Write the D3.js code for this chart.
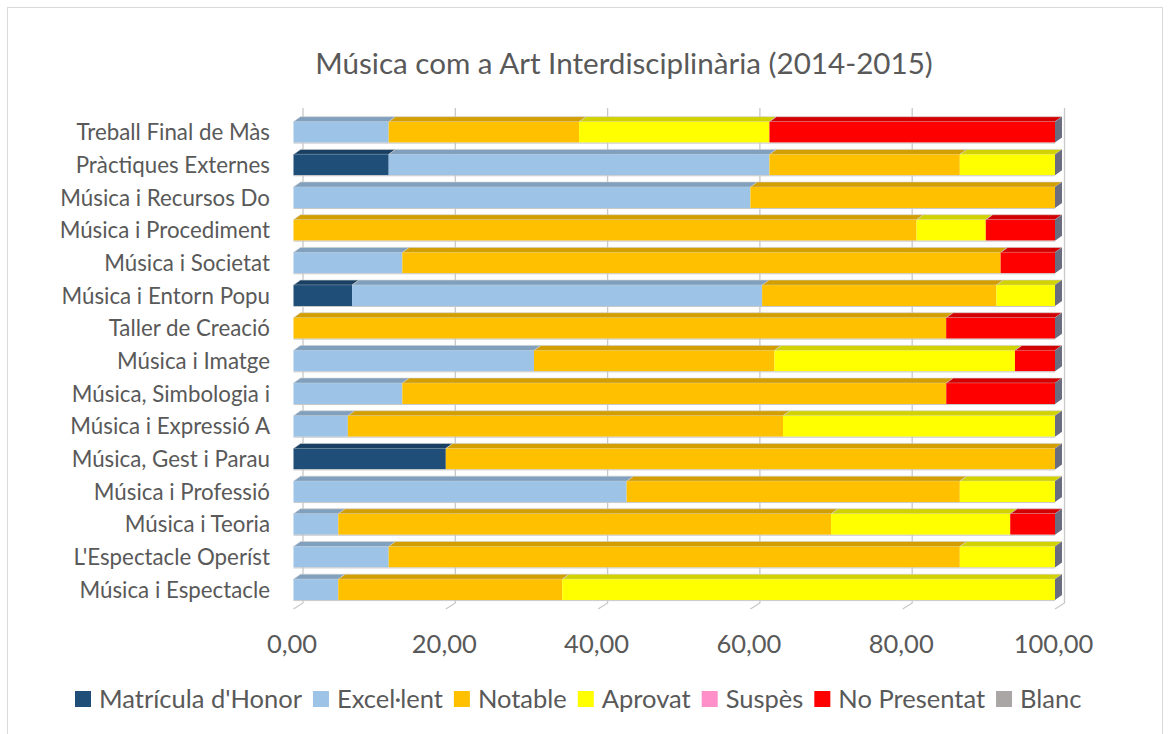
<!DOCTYPE html>
<html>
<head>
<meta charset="utf-8">
<script src="https://cdn.jsdelivr.net/npm/d3@7"></script>
<style>
  body { margin: 0; background: #fff; }
  text { font-family: Lato, "Open Sans", sans-serif; fill: #595959; }
</style>
</head>
<body>
<svg id="chart" width="1170" height="734"></svg>
<script>
// Assignatures (de dalt a baix)
const categories = [
    "Treball Final de Màs", "Pràctiques Externes", "Música i Recursos Do",
    "Música i Procediment", "Música i Societat", "Música i Entorn Popu",
    "Taller de Creació", "Música i Imatge", "Música, Simbologia i",
    "Música i Expressió A", "Música, Gest i Parau", "Música i Professió",
    "Música i Teoria", "L'Espectacle Operíst", "Música i Espectacle"
];
const seriesNames = ["Matrícula d'Honor", "Excel·lent", "Notable", "Aprovat", "Suspès", "No Presentat", "Blanc"];
const seriesColors = ["#1f4e79", "#9dc3e6", "#ffc000", "#ffff00", "#ff8fc8", "#ff0000", "#aaa6a6"];

// percentatges per sèrie, mateix ordre que categories
const matricula = [0, 12.5, 0, 0, 0, 7.69, 0, 0, 0, 0, 20, 0, 0, 0, 0];
const excellent = [12.5, 50, 60, 0, 14.29, 53.85, 0, 31.58, 14.29, 7.14, 0, 43.75, 5.88, 12.5, 5.88];
const notable   = [25, 25, 40, 81.82, 78.57, 30.77, 85.71, 31.58, 71.43, 57.14, 80, 43.75, 64.71, 75, 29.41];
const aprovat   = [25, 12.5, 0, 9.09, 0, 7.69, 0, 31.58, 0, 35.71, 0, 12.5, 23.53, 12.5, 64.71];
const suspes    = [0, 0, 0, 0, 0, 0, 0, 0, 0, 0, 0, 0, 0, 0, 0];
const noPresent = [37.5, 0, 0, 9.09, 7.14, 0, 14.29, 5.26, 14.29, 0, 0, 0, 5.88, 0, 0];
const blanc     = [0, 0, 0, 0, 0, 0, 0, 0, 0, 0, 0, 0, 0, 0, 0];
const xTicks = [0, 20, 40, 60, 80, 100];

const seriesValues = [matricula, excellent, notable, aprovat, suspes, noPresent, blanc];

const svg = d3.select("#chart");

// taula per a la pila
const table = categories.map((c, i) => {
    const row = { cat: c };
    seriesNames.forEach((s, j) => row[s] = seriesValues[j][i]);
    return row;
});
const stacked = d3.stack().keys(seriesNames)(table);

const x = d3.scaleLinear().domain([0, 100]).range([293.5, 1055]);
const y = d3.scaleBand().domain(categories).range([121.7, 600.1]).paddingInner(0.36).paddingOuter(0);
const color = d3.scaleOrdinal().domain(seriesNames).range(seriesColors);

// profunditat 3D
const dx = 7, dy = 5;       // barres
const wdx = 9.5, wdy = 6;   // paret del fons
const wallTop = 108, floorY = 609;

// vora del gràfic
svg.append("rect")
    .attr("x", 7.5).attr("y", 7.5)
    .attr("width", 1155).attr("height", 760)
    .attr("fill", "none").attr("stroke", "#d9d9d9");

// títol
svg.append("text")
    .attr("x", 624).attr("y", 74)
    .attr("text-anchor", "middle")
    .style("font-size", "29.6px")
    .text("Música com a Art Interdisciplinària (2014-2015)");

// línies de graella (paret del fons + terra)
const grid = svg.append("g");
grid.selectAll("path")
    .data(xTicks)
    .enter().append("path")
    .attr("d", d => `M${x(d) + wdx},${wallTop} L${x(d) + wdx},${floorY - wdy} L${x(d)},${floorY}`)
    .attr("fill", "none")
    .attr("stroke", "#c8c8c8")
    .attr("stroke-width", 1.3);

// barres apilades
const layers = svg.append("g").selectAll("g")
    .data(stacked)
    .enter().append("g")
    .attr("fill", d => color(d.key));

// cara superior
layers.selectAll(".top")
    .data(d => d.filter(p => p[1] > p[0]).map(p => ({ p, key: d.key })))
    .enter().append("path")
    .attr("class", "top")
    .attr("d", d => {
        const y0 = y(d.p.data.cat), x0 = x(d.p[0]), x1 = x(d.p[1]);
        return `M${x0},${y0} L${x0 + dx},${y0 - dy} L${x1 + dx},${y0 - dy} L${x1},${y0} Z`;
    })
    .attr("fill", d => d3.color(color(d.key)).darker(0.55))
    .attr("stroke", "#cfcfcf")
    .attr("stroke-width", 0.6);

// cara frontal
layers.selectAll(".front")
    .data(d => d.filter(p => p[1] > p[0]))
    .enter().append("rect")
    .attr("class", "front")
    .attr("x", d => x(d[0]))
    .attr("y", d => y(d.data.cat))
    .attr("width", d => x(d[1]) - x(d[0]))
    .attr("height", y.bandwidth());

// contorn inferior de la barra
svg.append("g").selectAll("line")
    .data(categories)
    .enter().append("line")
    .attr("x1", x(0)).attr("x2", x(100))
    .attr("y1", d => y(d) + y.bandwidth() + 0.5)
    .attr("y2", d => y(d) + y.bandwidth() + 0.5)
    .attr("stroke", "#c8c8c8");

// cara lateral dreta
svg.append("g").selectAll("path")
    .data(categories)
    .enter().append("path")
    .attr("d", d => {
        const x1 = x(100), y0 = y(d), y1 = y(d) + y.bandwidth();
        return `M${x1},${y0} L${x1 + dx},${y0 - dy} L${x1 + dx},${y1 - dy} L${x1},${y1} Z`;
    })
    .attr("fill", "#6a6d80");

// etiquetes de categoria
svg.append("g").selectAll("text")
    .data(categories)
    .enter().append("text")
    .attr("x", 270)
    .attr("y", d => y(d) + y.bandwidth() / 2 + 8)
    .attr("text-anchor", "end")
    .style("font-size", "22.3px")
    .text(d => d);

// eix X
svg.append("g").selectAll("text")
    .data(xTicks)
    .enter().append("text")
    .attr("x", d => x(d) - 1.5)
    .attr("y", 653)
    .attr("text-anchor", "middle")
    .style("font-size", "25.5px")
    .text(d => d3.format(".2f")(d).replace(".", ","));

// llegenda
const legend = svg.append("g");
let lx = 75;
seriesNames.forEach((s, i) => {
    legend.append("rect")
        .attr("x", lx).attr("y", 691)
        .attr("width", 16).attr("height", 16)
        .attr("fill", seriesColors[i]);
    const t = legend.append("text")
        .attr("x", lx + 24).attr("y", 708)
        .style("font-size", "25.5px")
        .text(s);
    lx += 24 + t.node().getComputedTextLength() + 11;
});
</script>
</body>
</html>
